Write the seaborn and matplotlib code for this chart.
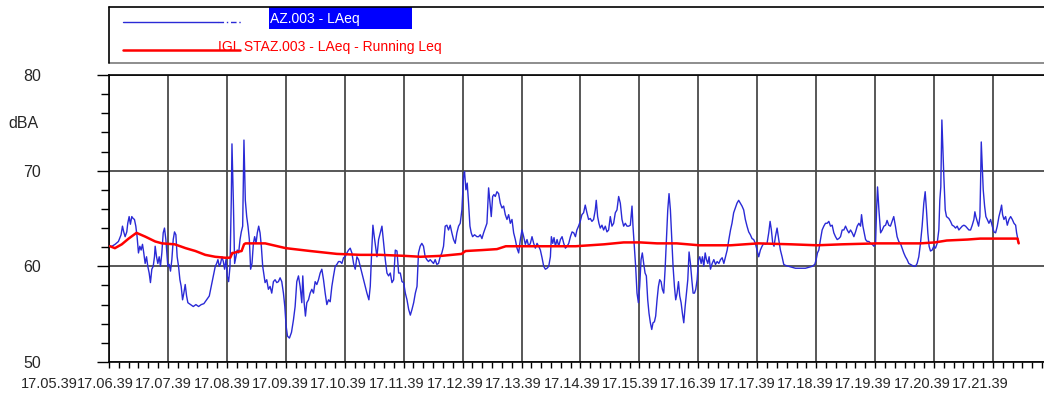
import matplotlib
matplotlib.use("Agg")
import matplotlib.pyplot as plt
import matplotlib.transforms as mtransforms
from matplotlib.lines import Line2D
from matplotlib.patches import Rectangle
from matplotlib.ticker import FixedLocator, MultipleLocator, FixedFormatter
import pandas as pd
import seaborn as sns

# LAeq samples: seconds after 17.06.39 and level in dBA
laeq_sec = [
    1, 3, 6.2, 9.6, 12.3, 13.7, 15, 16.4, 18.1, 19.1,
    20.5, 21.8, 23.2, 24.6, 25.9, 27.3, 28.6, 30, 31.4, 32.7,
    34.1, 35.4, 36.8, 38.2, 39.5, 40.9, 42.2, 43.6, 45, 46.3,
    47, 48.4, 49.7, 51.1, 52.4, 53.8, 55.2, 56.5, 57.9, 59.2,
    59.9, 61.3, 62.6, 64, 65.4, 66.7, 68.1, 69.4, 70.8, 72.2,
    73.5, 74.9, 76.2, 77.6, 79, 80.3, 83, 85.8, 88.5, 91.2,
    93.9, 96.6, 99.4, 102.1, 104.1, 106.2, 108.2, 109.6, 110.9, 112.3,
    113.6, 115, 116.4, 117.7, 119.1, 120.4, 121.8, 123.2, 124.5, 125.2,
    126.6, 127.9, 129.3, 130.6, 132, 133.4, 134.7, 136.1, 137.4, 138.8,
    140.2, 141.5, 142.9, 144.2, 145.6, 147, 148.3, 149.7, 151, 152.4,
    153.8, 155.1, 156.5, 157.8, 158.9, 160.6, 162.3, 164, 165.7, 167.4,
    169.1, 170.8, 172.5, 174.2, 175.9, 177.6, 179, 180.3, 181.7, 183.7,
    185.8, 187.8, 189.5, 191.2, 192.9, 194.6, 196.3, 197.3, 198.7, 200,
    201.4, 203.1, 204.8, 206.5, 208.2, 209.9, 211.6, 213.3, 215, 216.7,
    218.4, 220.1, 221.8, 223.5, 225.2, 226.9, 228.6, 230.3, 232, 233.7,
    235.4, 237.1, 238.8, 240.5, 242.2, 243.9, 245.6, 247.3, 249, 250.7,
    252.4, 254.1, 255.8, 257.5, 259.2, 260.9, 262.6, 264.6, 266, 267.4,
    268.7, 270.1, 271.4, 272.8, 274.5, 276.2, 277.9, 279.6, 281.3, 283,
    284.7, 286.4, 288.1, 289.8, 291.5, 293.2, 294.9, 296.6, 298.3, 300,
    301.7, 303.4, 305.1, 306.8, 308.5, 310.2, 311.9, 313.6, 315.1, 316.8,
    318.5, 320.2, 321.9, 323.6, 325.3, 327, 328.7, 330.4, 332.1, 333.8,
    335.5, 337.2, 338.9, 340.6, 342.3, 344, 345.7, 347.4, 349.1, 350.8,
    352.5, 354.2, 355.9, 357.6, 359.3, 361, 362, 363.4, 364.7, 366.1,
    367.5, 368.8, 370.2, 372.2, 374.6, 376.3, 378, 379.7, 381.4, 383.1,
    384.8, 386.5, 388.2, 389.2, 390.6, 391.9, 393.3, 395, 396.7, 398.4,
    400.1, 401.8, 403.5, 405.2, 406.9, 408.6, 410.3, 412, 413.7, 415.4,
    417.1, 418.8, 420.5, 422.2, 423.9, 425.6, 427.3, 429, 430.7, 432.4,
    434.1, 435.8, 437.5, 439.2, 440.9, 442.6, 444.3, 446, 447.7, 449.4,
    450.4, 451.8, 453.1, 454.5, 456.2, 457.9, 459.6, 461.3, 463, 464.7,
    466.4, 468.1, 469.8, 471.5, 473.2, 474.9, 476.4, 478.1, 479.8, 481.5,
    483.2, 484.9, 486.6, 488.3, 490, 491.7, 493.4, 495.1, 496.1, 497.5,
    498.8, 500.2, 501.9, 503.6, 505.3, 507, 508.7, 510.4, 512.1, 513.8,
    515.5, 517.2, 518.9, 520.6, 522.3, 524, 525.7, 527.4, 529.1, 530.8,
    532.5, 533.5, 534.9, 536.2, 537.6, 539, 540.3, 541.7, 543, 544.4,
    545.8, 547.1, 548.5, 549.8, 551.2, 552.6, 553.9, 555.3, 556.6, 558,
    559.4, 560.7, 562.1, 563.4, 564.8, 566.2, 567.5, 568.9, 570.2, 571.6,
    573, 574.3, 575.7, 577, 578.4, 579.8, 581.1, 582.5, 583.8, 585.2,
    586.6, 587.9, 589.3, 590.6, 592, 593.4, 594.7, 596.1, 597.4, 598.8,
    600.2, 601.5, 602.9, 604.2, 605.6, 607, 608.3, 609.7, 611, 612.4,
    614.1, 615.8, 617.5, 619.2, 620.9, 622.6, 624.3, 626, 627.7, 629.4,
    631.1, 632.8, 634.3, 636, 637.7, 639.4, 641.1, 642.8, 644.5, 646.2,
    647.9, 649.6, 651.3, 653, 654.7, 656.4, 658.1, 659.8, 661.5, 663.2,
    664.9, 666.6, 668.3, 670, 671.7, 673.1, 674.4, 675.8, 677.1, 678.5,
    680.2, 681.9, 683.6, 685.3, 687, 688.7, 692.1, 695.5, 698.9, 702.3,
    705.7, 709.1, 712.5, 715.9, 718.6, 720, 721.3, 722.7, 724.4, 726.1,
    727.8, 729.5, 731.2, 732.9, 734.6, 736.3, 738, 739.7, 741.4, 743.1,
    744.8, 746.5, 748.2, 749.9, 751.6, 753.3, 755, 756.7, 758.4, 760.1,
    761.8, 763.5, 765.2, 766.2, 767.6, 768.9, 770.3, 772, 773.7, 775.4,
    777.1, 778.8, 780.5, 781.5, 782.5, 783.9, 785.6, 787.3, 789, 790.7,
    792.2, 793.9, 795.6, 797.3, 799, 800.7, 802.4, 804.1, 805.8, 807.5,
    809.2, 810.9, 812.6, 814.3, 816, 817.7, 819.4, 821.1, 822.8, 824.5,
    826.2, 827.9, 829.6, 831, 832.3, 833.7, 835, 836.4, 838.1, 839.8,
    841.5, 843.2, 844.9, 845.9, 846.9, 848, 848.6, 850, 851.4, 852.7,
    855.1, 856.8, 858.5, 860.2, 861.9, 863.6, 865.3, 867, 868.7, 870.4,
    872.1, 873.8, 875.5, 877.2, 878.9, 880.6, 881.6, 882.6, 884, 885.4,
    886.7, 887.4, 888.1, 889.1, 890.1, 891.5, 892.8, 894.2, 895.9, 897.6,
    899.3, 901, 902.7, 904.4, 906.1, 907.8, 908.8, 909.8, 911.2, 912.9,
    914.6, 916.3, 918, 919.7, 921.4, 923.1, 924.1, 925.5, 926.2,
]
laeq_dba = [
    62.1, 62.1, 62.3, 62.6, 63.3, 64.2, 63.6, 63.1, 63.6, 64.5,
    65.2, 64.4, 65.2, 65.0, 64.9, 64.2, 63.1, 61.4, 62.1, 61.7,
    62.3, 61.4, 60.3, 61.0, 60.0, 59.3, 58.3, 59.7, 60.0, 61.0,
    62.1, 61.0, 60.3, 61.0, 60.0, 61.4, 63.5, 64.0, 62.8, 61.0,
    60.0, 60.2, 59.5, 60.7, 62.8, 63.6, 63.3, 61.0, 60.0, 58.6,
    57.9, 56.5, 57.2, 58.1, 56.9, 56.2, 56.0, 55.8, 56.0, 55.8,
    56.0, 56.1, 56.5, 56.9, 57.9, 58.9, 60.0, 60.3, 60.7, 60.0,
    60.3, 61.0, 60.5, 59.7, 60.7, 59.0, 58.4, 60.0, 66.9, 72.8,
    66.9, 60.3, 61.0, 61.7, 61.4, 62.8, 63.6, 64.2, 73.2, 66.9,
    65.2, 64.2, 62.8, 59.7, 60.3, 62.4, 63.1, 62.4, 63.5, 64.2,
    63.5, 62.1, 60.0, 59.1, 58.3, 58.6, 57.6, 57.9, 57.2, 58.4,
    58.6, 58.3, 58.4, 58.8, 58.4, 57.2, 55.8, 53.8, 52.7, 52.5,
    53.1, 54.4, 55.8, 58.4, 59.0, 57.9, 56.2, 59.0, 56.2, 54.8,
    56.2, 56.5, 57.2, 57.6, 57.2, 58.4, 58.1, 58.6, 59.3, 59.7,
    58.6, 57.2, 56.0, 56.5, 56.3, 57.9, 59.0, 60.0, 60.2, 60.5,
    60.5, 60.3, 60.9, 61.0, 61.4, 61.7, 61.9, 61.4, 60.3, 59.7,
    61.0, 60.7, 60.0, 59.3, 58.6, 57.9, 57.2, 56.5, 57.9, 61.4,
    64.3, 63.1, 62.1, 61.0, 62.8, 63.5, 64.2, 62.4, 60.7, 59.3,
    59.0, 59.3, 58.3, 58.6, 61.7, 61.6, 59.3, 59.3, 58.4, 58.3,
    57.2, 56.5, 55.5, 54.9, 55.5, 56.2, 57.2, 57.9, 61.4, 62.1,
    62.4, 62.1, 61.0, 60.7, 60.5, 60.7, 60.5, 60.3, 60.7, 60.2,
    60.3, 61.0, 61.4, 62.1, 64.2, 64.3, 63.8, 64.3, 63.5, 62.8,
    62.4, 63.5, 64.2, 64.5, 65.9, 69.4, 69.9, 68.0, 68.7, 66.6,
    64.2, 63.5, 63.1, 63.3, 63.1, 63.1, 63.3, 62.9, 63.5, 64.0,
    64.5, 68.2, 66.3, 65.2, 67.3, 67.5, 67.3, 67.8, 67.6, 66.6,
    66.1, 66.3, 65.4, 64.9, 65.4, 64.5, 64.9, 63.5, 62.8, 61.9,
    61.4, 62.8, 63.8, 63.1, 62.3, 62.8, 62.1, 62.4, 63.1, 62.4,
    61.9, 62.4, 62.1, 61.7, 60.9, 60.0, 59.7, 59.8, 60.0, 61.0,
    63.1, 62.4, 63.0, 62.1, 62.8, 62.1, 62.8, 63.1, 62.4, 61.9,
    62.1, 62.4, 63.1, 63.6, 63.5, 63.1, 63.8, 64.2, 64.7, 65.4,
    65.6, 66.4, 65.6, 64.9, 65.0, 64.7, 64.9, 65.9, 66.9, 65.2,
    64.5, 64.0, 64.3, 63.8, 64.2, 63.6, 63.8, 65.2, 64.2, 64.5,
    65.6, 65.9, 67.3, 66.6, 64.9, 64.2, 64.5, 64.2, 64.2, 64.3,
    66.3, 64.2, 62.1, 60.0, 57.2, 56.2, 57.9, 60.7, 61.4, 60.3,
    59.3, 59.0, 56.5, 55.1, 54.1, 53.4, 54.1, 54.2, 54.8, 56.5,
    57.9, 58.6, 58.4, 57.6, 57.2, 59.7, 62.8, 65.9, 67.6, 65.9,
    62.8, 60.0, 57.9, 56.5, 57.2, 58.4, 56.9, 56.2, 55.1, 54.1,
    55.8, 57.2, 58.6, 61.5, 60.3, 58.6, 57.2, 57.2, 57.6, 58.6,
    60.7, 61.0, 60.3, 61.0, 60.0, 61.4, 60.7, 60.3, 61.0, 59.7,
    60.3, 60.7, 60.2, 60.5, 60.3, 60.7, 60.9, 60.3, 61.0, 61.7,
    62.8, 63.8, 64.5, 65.6, 66.1, 66.6, 66.9, 66.6, 66.3, 65.9,
    64.9, 64.2, 63.6, 63.3, 62.9, 62.8, 62.4, 61.7, 61.0, 61.7,
    62.1, 62.4, 62.3, 62.4, 63.5, 64.7, 63.8, 62.4, 62.1, 63.1,
    64.0, 62.8, 61.7, 61.0, 60.2, 60.1, 60.0, 59.9, 59.8, 59.8,
    59.8, 59.8, 59.9, 60.0, 60.2, 60.7, 61.4, 61.7, 62.8, 63.8,
    64.2, 64.5, 64.5, 64.7, 64.2, 64.3, 63.5, 63.1, 62.8, 62.9,
    63.1, 63.8, 63.8, 64.2, 63.8, 63.5, 63.8, 63.5, 63.1, 63.6,
    64.2, 64.5, 64.2, 65.4, 64.2, 63.5, 62.8, 62.6, 62.6, 62.4,
    62.3, 62.1, 62.4, 65.9, 68.3, 65.9, 63.5, 63.8, 64.2, 64.3,
    64.8, 64.3, 64.2, 64.7, 65.2, 64.2, 63.1, 62.6, 62.4, 61.9,
    61.4, 61.0, 60.7, 60.3, 60.2, 60.1, 60.0, 60.0, 60.3, 61.0,
    62.4, 64.2, 66.6, 67.8, 65.9, 63.5, 62.1, 61.6, 61.7, 62.1,
    61.9, 62.4, 63.8, 66.9, 68.3, 75.3, 73.5, 69.4, 65.9, 65.2,
    65.0, 64.7, 64.3, 64.2, 64.0, 64.2, 63.8, 64.0, 64.2, 64.3,
    64.2, 64.0, 63.8, 63.8, 64.3, 64.9, 65.7, 65.2, 64.7, 64.2,
    65.2, 68.7, 73.0, 70.4, 68.0, 66.3, 65.2, 64.9, 64.5, 64.9,
    64.2, 63.6, 63.5, 64.2, 65.2, 65.9, 66.4, 65.4, 64.9, 65.2,
    64.3, 64.9, 65.2, 64.9, 64.5, 64.3, 63.5, 62.8, 62.4,
]

# Running Leq: seconds after 17.06.39 and level in dBA
running_sec = [
    1, 6, 13, 20, 28, 37, 47, 54, 67, 78,
    88, 98, 108, 118, 123.5, 125.5, 127, 130, 135, 137.5,
    139, 142, 154, 159, 180, 205, 232, 256, 276, 300,
    317, 339, 359, 363, 380, 395, 404, 420, 448, 475,
    504, 524, 541, 558, 578, 601, 633, 661, 695, 721,
    746, 782, 791, 826, 841, 853, 874, 887, 902, 925, 926.2,
]
running_dba = [
    62.1, 61.9, 62.3, 62.9, 63.5, 63.1, 62.6, 62.4, 62.3, 61.9,
    61.6, 61.2, 61.0, 60.9, 60.9, 61.4, 61.4, 61.5, 61.6, 62.3,
    62.4, 62.4, 62.4, 62.4, 61.9, 61.6, 61.3, 61.2, 61.2, 61.1,
    61.0, 61.1, 61.3, 61.6, 61.7, 61.8, 62.1, 62.1, 62.1, 62.1,
    62.3, 62.5, 62.5, 62.4, 62.4, 62.2, 62.2, 62.4, 62.3, 62.2,
    62.3, 62.4, 62.4, 62.4, 62.5, 62.7, 62.8, 62.9, 62.9, 62.9, 62.4,
]

# Minute tick labels (clock time hh.mm.ss)
tick_labels = ["17.%02d.39" % m for m in range(6, 22)]
first_label = "17.05.39"
y_ticks = [50, 60, 70, 80]
legend_laeq = "AZ.003 - LAeq"
legend_running = "IGL STAZ.003 - LAeq - Running Leq"
y_unit = "dBA"

sns.set_style("white")
plt.rcParams["font.family"] = ["Liberation Sans", "DejaVu Sans"]

W, H = 1044, 397
fig = plt.figure(figsize=(W / 100, H / 100), dpi=100)


def fx(px):
    return px / W


def fy(py):
    return 1 - py / H


ax = fig.add_axes([fx(109), fy(362), fx(1044) - fx(109), fy(75) - fy(362)])

laeq = pd.DataFrame({"sec": laeq_sec, "dba": laeq_dba})
running = pd.DataFrame({"sec": running_sec, "dba": running_dba})

sns.lineplot(data=laeq, x="sec", y="dba", ax=ax, color="#2a2ad6",
             lw=1.0, estimator=None, sort=False, zorder=3)
sns.lineplot(data=running, x="sec", y="dba", ax=ax, color="#ff0000",
             lw=1.8, estimator=None, sort=False, zorder=4)

x_max = (1044 - 109) * 60 / 58.93
ax.set_xlim(0, x_max)
ax.set_ylim(50, 80)
ax.set_xlabel("")
ax.set_ylabel("")

# axes frame
for side in ("left", "bottom", "top"):
    ax.spines[side].set_visible(True)
    ax.spines[side].set_color("black")
    ax.spines[side].set_linewidth(1.2)
ax.spines["right"].set_visible(False)

# x: one major tick per minute, minor every 10 s
major_x = [60 * i for i in range(len(tick_labels))]
ax.xaxis.set_major_locator(FixedLocator(major_x))
ax.xaxis.set_major_formatter(FixedFormatter(tick_labels))
ax.xaxis.set_minor_locator(MultipleLocator(10))
ax.yaxis.set_major_locator(FixedLocator(y_ticks))
ax.yaxis.set_minor_locator(MultipleLocator(2))

ax.tick_params(axis="x", which="both", direction="out", length=4, width=1,
               color="black", bottom=True, top=False, labelsize=10.5, pad=7)
ax.tick_params(axis="y", which="major", direction="out", length=9, width=1,
               color="black", left=True, right=False, labelsize=11.5, pad=40)
ax.tick_params(axis="y", which="minor", direction="out", length=5.5, width=1,
               color="black", left=True, right=False)


def label_shift(i):
    # the time labels sit a little left of their ticks, more so to the right
    return mtransforms.ScaledTranslation((-3.8 - 0.58 * i) / 100, 0,
                                         fig.dpi_scale_trans)


for i, lab in enumerate(ax.get_xticklabels()):
    lab.set_transform(lab.get_transform() + label_shift(i))

# label of the minute before the record start, outside the frame
ax.text(-60, 0, first_label, transform=mtransforms.blended_transform_factory(
    ax.transData, ax.transAxes) + mtransforms.ScaledTranslation(
    -0.5 / 100, -(4 + 7) / 72, fig.dpi_scale_trans),
    ha="center", va="top", fontsize=10.5, clip_on=False)

ax.grid(True, which="major", color="#4a4a4a", lw=1.3)
ax.grid(False, which="minor")
ax.set_axisbelow(True)

fig.text(fx(8), fy(123), y_unit, fontsize=11.5, ha="left", va="center")

# legend frame
fig.add_artist(Line2D([fx(109), fx(1044)], [fy(7), fy(7)], color="black", lw=1.2))
fig.add_artist(Line2D([fx(109), fx(1044)], [fy(63), fy(63)], color="#7a7a7a", lw=1.2))
fig.add_artist(Line2D([fx(109), fx(109)], [fy(7), fy(63)], color="black", lw=1.2))

# LAeq entry
fig.add_artist(Line2D([fx(123), fx(218)], [fy(22), fy(22)], color="#2a2ad6", lw=1.0))
fig.add_artist(Line2D([fx(218), fx(242)], [fy(22), fy(22)], color="#2a2ad6",
                      lw=1.0, ls=(0, (4, 2, 1, 2))))
fig.add_artist(Rectangle((fx(269), fy(29)), fx(412) - fx(269), fy(7) - fy(29),
                         facecolor="#0000ff", edgecolor="none"))
fig.text(fx(270), fy(18.5), legend_laeq, color="white", fontsize=10,
         ha="left", va="center")

# Running Leq entry
fig.add_artist(Line2D([fx(123), fx(240)], [fy(50), fy(50)], color="#ff0000", lw=1.8))
fig.text(fx(218), fy(47), legend_running, color="#ff0000", fontsize=10,
         ha="left", va="center")

fig.savefig("out.png", dpi=100)
